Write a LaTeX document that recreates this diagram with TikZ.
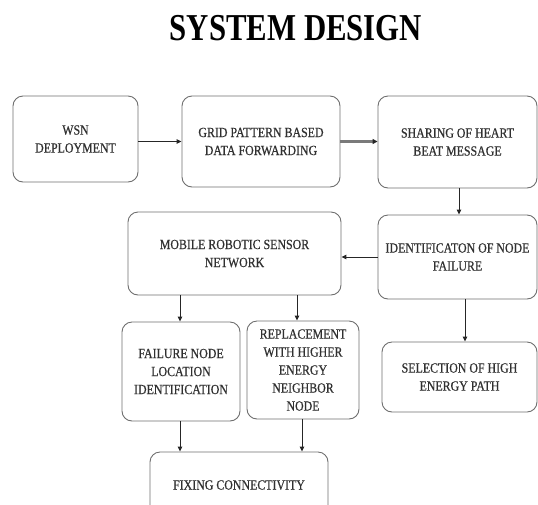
\documentclass[tikz,border=0pt]{standalone}
\usepackage{fontspec}
\setmainfont{Liberation Serif}
\newfontfamily\bodyfont{Liberation Serif}[FakeStretch=0.85,FakeBold=0.6]
\newfontfamily\titlefont{Liberation Serif}[FakeStretch=0.81]
\usetikzlibrary{arrows.meta}
\definecolor{boxgray}{HTML}{6E6E6E}
\definecolor{txt}{HTML}{303030}
\definecolor{arrgray}{HTML}{7A7A7A}
\tikzset{
  box/.style={draw=boxgray, line width=0.9pt, rounded corners=10pt, align=center,
    text=txt, font=\bodyfont\fontsize{14}{18}\selectfont, inner sep=0pt},
  arr/.style={draw=black!85, line width=1pt, -{Triangle[length=5pt,width=4.5pt]}},
  thickarr/.style={draw=arrgray, line width=2.5pt, -{Triangle[length=5pt,width=5pt,color=black!85]}},
  title/.style={font=\titlefont\bfseries\fontsize{38}{40}\selectfont, text=black, inner sep=0pt}
}
\begin{document}
\begin{tikzpicture}[x=1pt,y=-1pt]
\useasboundingbox (0,0) rectangle (538,504);
\clip (0,0) rectangle (538,504);
\node[title, anchor=base] (ttl) at (296,40) {SYSTEM DESIGN};

\node[box, minimum width=125pt, minimum height=86pt] (wsn) at (75.5,139) {WSN\\DEPLOYMENT};
\node[box, minimum width=158pt, minimum height=91pt] (grid) at (261,141.5) {GRID PATTERN BASED\\DATA FORWARDING};
\node[box, minimum width=159pt, minimum height=92pt] (share) at (457.5,142) {SHARING OF HEART\\BEAT MESSAGE};
\node[box, minimum width=159pt, minimum height=84pt] (ident) at (457.5,257) {IDENTIFICATON OF NODE\\FAILURE};
\node[box, minimum width=155pt, minimum height=70pt] (sel) at (459.5,377) {SELECTION OF HIGH\\ENERGY PATH};
\node[box, minimum width=213pt, minimum height=83pt] (mrsn) at (234.5,253.5) {MOBILE ROBOTIC SENSOR\\NETWORK};
\node[box, minimum width=118pt, minimum height=99pt] (fail) at (181,371.5) {FAILURE NODE\\LOCATION\\IDENTIFICATION};
\node[box, minimum width=112pt, minimum height=98pt] (rep) at (303,370) {REPLACEMENT\\WITH HIGHER\\ENERGY\\NEIGHBOR\\NODE};
\node[box, minimum width=178pt, minimum height=66pt] (fix) at (239,485) {FIXING CONNECTIVITY};

\draw[arr] (wsn.east |- grid.west) -- (grid.west);
\draw[thickarr] (grid.east) -- (share.west |- grid.east);
\draw[arr] ([xshift=1.5pt]share.south) -- ([xshift=1.5pt]ident.north);
\draw[arr] (ident.west) -- (mrsn.east |- ident.west);
\draw[arr] ([xshift=-1pt]fail.north |- mrsn.south) -- ([xshift=-1pt]fail.north);
\draw[arr] ([xshift=-6pt]rep.north |- mrsn.south) -- ([xshift=-6pt]rep.north);
\draw[arr] ([xshift=5.5pt]sel.north |- ident.south) -- ([xshift=5.5pt]sel.north);
\draw[arr] ([xshift=-1pt]fail.south) -- ([xshift=-1pt]fail.south |- fix.north);
\draw[arr] ([xshift=-1pt]rep.south) -- ([xshift=-1pt]rep.south |- fix.north);
\end{tikzpicture}
\end{document}
